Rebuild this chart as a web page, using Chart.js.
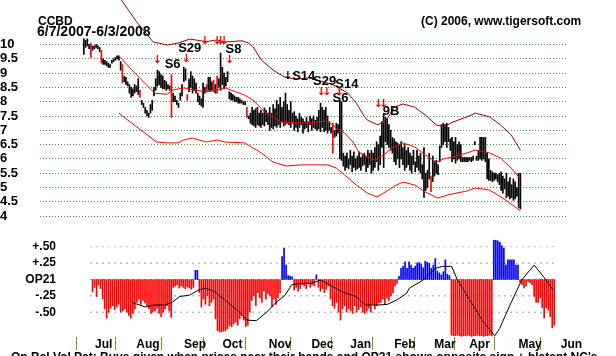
<!DOCTYPE html>
<html>
<head>
<meta charset="utf-8">
<script src="https://cdn.jsdelivr.net/npm/chart.js@4.4.1/dist/chart.umd.min.js"></script>
<style>
  html, body { margin: 0; padding: 0; background: #ffffff; }
  #wrap { position: relative; width: 616px; height: 356px; overflow: hidden; }
  canvas { position: absolute; left: 0; top: 0; }
</style>
</head>
<body>
<div id="wrap">
  <canvas id="op21" width="616" height="356"></canvas>
  <canvas id="price" width="616" height="356"></canvas>
</div>
<script>
// ---------------- DATA ----------------
const ticker = 'CCBD';
const dateRange = '6/7/2007-6/3/2008';
const copyright = '(C) 2006, www.tigersoft.com';
const footNote = "On Bal Vol Pct: Buys given when prices near their bands and OP21 shows opposite sign + blatant NC's";

// daily highs / lows (trading day index 0 = 6/7/2007)
const highs = [
  10.2,10.15,10.2,10.0,10.05,9.95,9.95,10.0,9.95,9.9,
  9.8,9.5,9.45,9.4,9.35,9.3,9.45,9.5,9.55,9.6,
  9.6,9.4,9.3,8.9,8.85,8.7,8.6,8.5,8.45,8.6,
  8.55,8.8,8.4,8.05,7.95,7.8,7.7,7.6,7.9,8.05,
  8.5,8.8,9.1,9.05,8.95,8.9,8.75,8.7,8.6,8.55,
  8.95,8.3,8.2,8.05,7.95,8.3,8.6,9.2,9.15,8.25,
  8.8,9.05,8.9,8.8,8.65,8.3,8.2,8.1,8.65,8.5,
  8.6,8.85,8.85,8.7,8.75,8.6,8.9,8.8,9.7,9.2,
  9.0,8.85,9.05,8.35,8.3,8.25,8.2,8.15,8.15,8.1,
  8.05,8.0,8.0,7.8,7.5,7.6,7.8,7.7,7.75,7.8,
  7.6,7.7,7.6,7.78,7.7,7.6,7.8,7.6,7.9,7.75,
  8.05,7.9,8.15,7.8,8.0,8.3,7.9,7.7,8.0,7.6,
  7.65,7.5,7.4,7.6,7.45,7.4,7.3,7.45,7.3,7.5,
  7.4,7.5,7.35,7.45,7.7,7.95,7.8,7.7,7.8,7.5,
  7.3,7.1,7.25,7.0,7.25,7.2,8.05,8.0,6.2,6.1,
  6.2,6.0,6.3,6.1,6.25,6.0,6.1,6.25,6.05,6.15,
  6.2,6.1,6.3,6.2,6.3,6.2,6.4,6.6,6.5,6.8,
  7.3,7.6,7.45,7.4,7.2,7.0,6.75,6.7,6.6,6.55,
  6.5,6.6,6.4,6.5,6.3,6.4,6.2,6.1,6.3,5.9,
  6.3,6.1,6.2,5.8,6.4,5.5,5.6,6.2,5.4,6.1,
  5.9,5.95,5.8,6.45,7.2,7.25,7.2,7.25,7.1,6.7,
  6.75,6.6,6.75,6.5,6.6,6.5,6.05,6.05,6.05,6.05,
  6.05,6.05,6.1,6.6,6.1,6.3,6.75,6.75,6.75,6.75,
  6.2,6.0,5.6,5.55,5.5,5.5,5.45,5.5,5.55,5.4,
  5.3,5.5,5.2,5.35,5.1,5.3,5.2,5.0,5.5,5.5
];
const lows = [
  9.65,9.9,9.95,9.85,9.55,9.8,9.85,9.9,9.85,9.75,
  9.35,9.3,9.3,9.25,9.2,9.2,9.35,9.4,9.45,9.5,
  9.45,9.1,8.65,8.7,8.6,8.55,8.3,8.15,8.2,8.3,
  8.35,8.25,8.15,7.9,7.8,7.6,7.5,7.45,7.6,7.7,
  8.2,8.4,8.55,8.6,8.5,8.45,8.45,8.4,8.45,8.4,
  7.45,8.0,8.0,7.9,7.8,8.05,8.2,8.7,8.75,8.05,
  8.35,8.5,8.3,8.4,8.3,8.0,7.9,7.85,7.8,8.3,
  8.35,8.4,8.35,8.4,8.35,8.3,8.3,8.5,8.4,8.6,
  8.45,8.55,8.7,8.1,8.05,8.05,8.0,8.0,7.95,7.95,
  7.95,7.9,7.9,7.45,7.4,7.25,7.2,7.15,7.1,7.2,
  7.15,7.1,7.2,7.15,7.3,7.2,7.0,7.1,7.05,7.15,
  7.1,7.2,7.1,7.3,7.15,7.2,7.25,7.2,7.1,7.25,
  7.0,7.1,6.95,7.1,7.2,6.9,7.05,7.1,6.95,7.2,
  7.0,7.1,7.05,7.0,7.05,6.95,7.1,6.95,7.0,6.9,
  7.0,6.9,6.2,6.75,6.8,6.9,6.0,5.95,5.75,5.6,
  5.7,5.65,5.8,5.55,5.7,5.6,5.65,5.7,5.6,5.75,
  5.8,5.55,5.7,5.8,5.5,5.6,5.7,5.9,5.6,5.8,
  6.4,5.7,6.6,6.5,6.4,6.3,6.2,5.9,5.8,6.0,
  5.7,6.0,5.8,5.6,5.7,5.8,5.6,5.5,5.8,5.55,
  5.7,5.6,5.5,5.3,4.65,4.9,5.0,5.3,4.85,5.2,
  5.4,5.5,5.45,5.9,6.4,6.5,6.6,6.4,6.6,6.3,
  5.9,6.0,5.85,5.95,6.0,5.9,5.9,5.9,5.9,5.9,
  5.95,5.9,5.95,6.5,5.95,5.95,6.0,5.95,6.0,5.9,
  5.3,5.25,5.25,5.2,5.25,5.3,5.2,5.1,4.9,4.8,
  4.95,4.65,4.7,4.6,4.65,4.55,4.6,4.7,4.3,4.25
];
const redBarDays = [4, 10, 22, 32, 50, 59, 70, 74, 76, 93, 142, 198];

// 21-day moving average and bands  [day, price]
const maLine = [[20,9.6],[28.5,9.04],[34.7,8.65],[40.4,8.3],[47.6,8.26],[50.9,8.41],[57,8.48],[63.2,8.41],[69.9,8.34],[76,8.41],[80.8,8.48],[85.5,8.37],[91.7,8.23],[96.5,8.06],[103.1,7.64],[112.6,7.29],[120.2,7.26],[129.7,7.26],[137.8,7.33],[141.1,7.22],[144,7.08],[148.7,6.91],[153.5,6.59],[156.8,6.24],[161.6,6.07],[166.3,5.96],[171,6.14],[175.8,6.38],[182,6.56],[188.6,6.42],[194.8,6.14],[201,5.89],[205.3,6.0],[210.5,6.07],[218.6,6.21],[223.3,6.31],[231.4,6.21],[237.6,6.03],[243.7,5.68],[249,5.3]];
const upperBand = [[20,11.9],[21.4,11.56],[30,10.8],[39.5,10.09],[47.6,9.98],[53.7,10.05],[60.4,10.19],[69.9,10.1],[76,10.16],[80.8,10.09],[90.3,10.13],[93.6,10.06],[96.5,9.92],[101.2,9.46],[107.9,9.11],[114.1,8.87],[120.2,8.79],[128.3,8.83],[133.1,8.76],[142.6,8.58],[150.6,8.3],[155.4,7.95],[160.1,7.47],[161.6,7.36],[167.7,7.19],[172.5,7.36],[177.2,7.81],[182,7.92],[188.6,7.81],[194.8,7.53],[201,7.19],[205.3,7.12],[210.5,7.29],[218.6,7.47],[223.3,7.6],[231.4,7.47],[237.6,7.19],[243.7,6.84],[249,6.3]];
const lowerBand = [[20,7.6],[27.1,7.26],[34.7,6.91],[41.4,6.59],[47.6,6.56],[53.7,6.56],[57,6.66],[61.8,6.73],[69.9,6.59],[76,6.66],[80.8,6.59],[91.7,6.56],[101.2,6.21],[107.9,5.89],[115.5,5.75],[123.6,5.79],[131.7,5.79],[139.2,5.79],[144,5.68],[148.7,5.44],[155.4,5.09],[161.6,4.81],[167.3,4.67],[171.1,4.81],[177.2,5.05],[182,5.19],[188.6,5.09],[194.8,4.84],[201.9,4.63],[207.6,4.74],[218.6,4.88],[223.3,4.98],[231.4,4.91],[236.1,4.74],[242.3,4.49],[249,4.18]];

// signals
const signalLabels = ['S6','S29','S8','S14','S29','S14','S6','9B'];
const signalDays   = [46.1, 53.8, 80.8, 118.8, 130.7, 143.4, 141.8, 170.5];
const signalPrices = [9.18, 9.74, 9.7, 8.76, 8.58, 8.47, 8.0, 7.55];
const redArrowDays   = [42, 58.5, 69, 76, 78, 80, 83.2, 135.4, 138.6, 145.7, 168, 171];
const redArrowPrices = [9.46, 9.5, 10.1, 10.1, 10.1, 10.1, 9.45, 8.35, 8.35, 8.35, 7.9, 7.9];
const blackArrowDays = [116.4];
const blackArrowPrices = [8.9];

// OP21 histogram (starts at day 20) and its smoothed line
const op21Start = 20;
const op21Hist = [
  -0.19,-0.12,-0.26,-0.08,-0.14,-0.3,-0.45,-0.59,-0.5,-0.44,
  -0.4,-0.46,-0.42,-0.38,-0.5,-0.48,-0.45,-0.5,-0.55,-0.59,
  -0.52,-0.45,-0.35,-0.3,-0.38,-0.32,-0.36,-0.4,-0.45,-0.52,
  -0.5,-0.48,-0.44,-0.52,-0.57,-0.5,-0.45,-0.4,-0.48,-0.58,
  -0.12,-0.1,-0.08,-0.13,-0.1,-0.12,-0.14,-0.11,-0.13,-0.15,
  -0.12,0.14,0.14,-0.2,-0.42,-0.3,-0.38,-0.25,-0.4,-0.35,
  -0.3,-0.6,-0.78,-0.8,-0.8,-0.79,-0.78,-0.75,-0.7,-0.72,
  -0.68,-0.65,-0.7,-0.6,-0.55,-0.62,-0.72,-0.7,-0.5,-0.32,
  -0.25,-0.4,-0.2,-0.28,-0.35,-0.18,-0.3,-0.22,-0.25,-0.42,
  -0.3,-0.38,-0.28,-0.2,0.35,0.48,0.22,0.06,0.05,0.04,
  -0.16,-0.12,-0.18,-0.14,-0.08,-0.1,-0.14,-0.05,-0.12,-0.08,
  -0.1,0.07,-0.12,-0.18,-0.14,-0.2,-0.15,-0.1,-0.3,-0.4,
  -0.44,-0.35,-0.5,-0.62,-0.45,-0.4,-0.5,-0.45,-0.48,-0.52,
  -0.4,-0.5,-0.46,-0.42,-0.5,-0.52,-0.48,-0.44,-0.5,-0.38,
  -0.45,-0.4,-0.36,-0.35,-0.3,-0.38,-0.28,-0.32,-0.25,-0.2,
  -0.1,-0.06,0.05,0.17,0.2,0.27,0.17,0.27,0.22,0.17,
  0.2,0.25,0.26,0.23,0.18,0.28,0.26,0.25,0.17,0.22,
  0.32,0.13,0.1,0.07,0.12,0.3,0.08,0.06,-0.85,-0.86,
  -0.86,-0.85,-0.86,-0.87,-0.86,-0.86,-0.85,-0.86,-0.87,-0.86,
  -0.86,-0.85,-0.86,-0.86,-0.87,-0.86,-0.86,-0.85,-0.86,0.6,
  0.6,0.59,0.57,0.52,0.48,0.22,0.3,0.3,0.3,0.3,
  0.22,0.22,-0.04,-0.08,-0.13,-0.1,-0.03,-0.05,-0.08,-0.26,
  -0.35,-0.35,-0.28,-0.43,-0.59,-0.43,-0.47,-0.57,-0.74,-0.7
];
const op21Line = [[39.5,-0.35],[46.1,-0.42],[50.9,-0.39],[55.6,-0.39],[59.4,-0.35],[63.2,-0.26],[68,-0.24],[72.7,-0.16],[76,-0.13],[80.8,-0.19],[85.5,-0.31],[91.7,-0.47],[96.5,-0.62],[101.2,-0.63],[106,-0.51],[110.7,-0.36],[115.5,-0.24],[118.8,-0.08],[123.6,-0.06],[128.3,-0.06],[133.1,-0.01],[139.2,-0.11],[144,-0.19],[150.6,-0.26],[155.4,-0.39],[161.6,-0.39],[166.3,-0.38],[171.1,-0.31],[175.8,-0.21],[177.2,-0.13],[183.9,-0.01],[190,0.17],[193.4,0.2],[198.1,0.2],[201,-0.01],[207.6,-0.34],[213.8,-0.65],[219.5,-0.86],[221.9,-0.75],[226.6,-0.42],[232.8,-0.01],[239,0.22],[243.7,0.04],[248.4,-0.16]];

// tick labels
const priceTicks = [4,4.5,5,5.5,6,6.5,7,7.5,8,8.5,9,9.5,10];
const priceTickLabels = ['4','4.5','5','5.5','6','6.5','7','7.5','8','8.5','9','9.5','10'];
const op21Ticks = [-0.5,-0.25,0,0.25,0.5];
const op21TickLabels = ['-.50','-.25','OP21','+.25','+.50'];
const monthNames = ['Jul','Aug','Sep','Oct','Nov','Dec','Jan','Feb','Mar','Apr','May','Jun'];
const monthStartDays = [16.5,37.5,60.5,79.5,102.5,123.5,143.5,164.5,184.5,204.5,226.5,247.5];
const monthLabelDays = [25.5,47.5,70.8,89.4,113,134,153,174.9,194.8,211.9,237,257.5];

// ---------------- LAYOUT ----------------
const DAYS = 250;
const TOP = { left: 40, right: 566, top: 30, bottom: 222, refPrice: 10, refY: 44.5, pxPerUnit: 28.6 };
const BOT = { left: 60, right: 606, top: 236, bottom: 337, zeroY: 279.5, pxPerUnit: 65.4, guideFrom: 19 };
const pxPerDay = (TOP.right - TOP.left) / DAYS;
const OLIVE = '#8c8c1a';

Chart.defaults.font.family = 'Arial, "Liberation Sans", sans-serif';
Chart.defaults.color = '#000';

const textPlugin = {
  id: 'priceTexts',
  afterDraw(chart) {
    const { ctx } = chart;
    const xs = chart.scales.x, ys = chart.scales.y;
    ctx.save();
    ctx.fillStyle = '#000';
    ctx.textBaseline = 'alphabetic';
    ctx.textAlign = 'left';
    ctx.font = 'bold 12px Arial';
    ctx.fillText(ticker, 38, 25);
    ctx.font = 'bold 14px Arial';
    ctx.fillText(dateRange, 37, 36);
    ctx.font = 'bold 12px Arial';
    ctx.fillText(copyright, 421, 25);
    ctx.font = 'bold 13px Arial';
    signalLabels.forEach((s, k) => {
      ctx.fillText(s, xs.getPixelForValue(signalDays[k]), ys.getPixelForValue(signalPrices[k]));
    });
    ctx.textAlign = 'center';
    ctx.textBaseline = 'middle';
    ctx.font = 'bold 11px "DejaVu Sans"';
    ctx.fillStyle = '#ff0000';
    redArrowDays.forEach((d, k) => ctx.fillText('\u2193', xs.getPixelForValue(d), ys.getPixelForValue(redArrowPrices[k])));
    ctx.fillStyle = '#000';
    blackArrowDays.forEach((d, k) => ctx.fillText('\u2193', xs.getPixelForValue(d), ys.getPixelForValue(blackArrowPrices[k])));
    ctx.restore();
  }
};

const footPlugin = {
  id: 'foot',
  afterDraw(chart) {
    const { ctx } = chart;
    ctx.save();
    ctx.fillStyle = '#000';
    ctx.font = 'bold 12px Arial';
    ctx.textAlign = 'left';
    ctx.textBaseline = 'alphabetic';
    ctx.fillText(footNote, 11, 361);
    ctx.restore();
  }
};

const toXY = arr => arr.map(([d, v]) => ({ x: d, y: v }));
const lineDs = (data, color, extra) => Object.assign({
  type: 'line', data: toXY(data), borderColor: color, borderWidth: 1,
  pointRadius: 0, tension: 0, fill: false
}, extra || {});

// ---------------- PRICE CHART ----------------
new Chart(document.getElementById('price'), {
  type: 'bar',
  data: {
    datasets: [
      lineDs(maLine, '#ff0000'),
      lineDs(upperBand, '#990000', { clip: false }),
      lineDs(lowerBand, '#ff0000'),
      {
        type: 'bar',
        data: highs.map((h, i) => ({ x: i, y: [lows[i], h] })),
        backgroundColor: ctx => redBarDays.includes(ctx.dataIndex) ? '#ff0000' : '#000000',
        barThickness: 1,
        borderWidth: 0,
        grouped: false
      }
    ]
  },
  options: {
    responsive: false, animation: false, devicePixelRatio: 1,
    events: [],
    layout: { padding: { left: 0, top: TOP.top, right: 616 - TOP.right, bottom: 356 - TOP.bottom } },
    plugins: { legend: { display: false }, tooltip: { enabled: false }, title: { display: false } },
    scales: {
      x: { type: 'linear', min: 0, max: DAYS, display: false },
      y: {
        type: 'linear',
        min: TOP.refPrice - (TOP.bottom - TOP.refY) / TOP.pxPerUnit,
        max: TOP.refPrice + (TOP.refY - TOP.top) / TOP.pxPerUnit,
        afterFit: s => { s.width = TOP.left; },
        afterBuildTicks: s => { s.ticks = priceTicks.map(v => ({ value: v })); },
        border: { display: false, dash: [1, 2] },
        grid: { color: '#3c9a3c', drawTicks: false, lineWidth: 1 },
        ticks: {
          autoSkip: false, maxTicksLimit: 100,
          crossAlign: 'far', padding: 16,
          font: { size: 13, weight: 'bold' }, color: '#000',
          callback: v => priceTickLabels[priceTicks.indexOf(v)]
        }
      }
    }
  },
  plugins: [textPlugin]
});

// ---------------- OP21 CHART ----------------
const botMin = (BOT.left - TOP.left) / pxPerDay;
const botMax = DAYS + (BOT.right - TOP.right) / pxPerDay;
const guideDatasets = op21Ticks.map(lv => lineDs([[BOT.guideFrom, lv], [DAYS, lv]],
  lv === 0.5 ? '#b070b0' : '#333333', { borderDash: [1, 5] }));
const xTicks = monthStartDays.concat(monthLabelDays).sort((a, b) => a - b);
const isStart = ctx => !!(ctx.tick && monthStartDays.includes(ctx.tick.value));

new Chart(document.getElementById('op21'), {
  type: 'bar',
  data: {
    datasets: [
      lineDs(op21Line, '#000000'),
      {
        type: 'bar',
        data: op21Hist.map((v, k) => ({ x: op21Start + k, y: v })),
        backgroundColor: ctx => (ctx.raw && ctx.raw.y >= 0) ? '#0000ff' : '#ff0000',
        barThickness: 1, borderWidth: 0, grouped: false
      }
    ].concat(guideDatasets)
  },
  options: {
    responsive: false, animation: false, devicePixelRatio: 1,
    events: [],
    layout: { padding: { left: 0, top: BOT.top, right: 616 - BOT.right, bottom: 0 } },
    plugins: { legend: { display: false }, tooltip: { enabled: false } },
    scales: {
      x: {
        type: 'linear', min: botMin, max: botMax,
        afterFit: s => { s.height = 356 - BOT.bottom; },
        afterBuildTicks: s => { s.ticks = xTicks.map(v => ({ value: v })); },
        border: { display: false },
        grid: {
          drawOnChartArea: false, drawTicks: true, tickLength: 13, lineWidth: 1,
          color: ctx => isStart(ctx) ? OLIVE : 'rgba(0,0,0,0)',
          tickColor: ctx => isStart(ctx) ? OLIVE : 'rgba(0,0,0,0)',
          tickWidth: 1
        },
        ticks: {
          autoSkip: false, maxTicksLimit: 100, maxRotation: 0, padding: -13,
          font: { size: 12, weight: 'bold' }, color: '#000',
          callback: v => { const k = monthLabelDays.indexOf(v); return k >= 0 ? monthNames[k] : ''; }
        }
      },
      y: {
        type: 'linear',
        min: -(BOT.bottom - BOT.zeroY) / BOT.pxPerUnit,
        max: (BOT.zeroY - BOT.top) / BOT.pxPerUnit,
        afterFit: s => { s.width = BOT.left; },
        afterBuildTicks: s => { s.ticks = op21Ticks.map(v => ({ value: v })); },
        border: { display: false },
        grid: { display: false, drawTicks: false },
        ticks: {
          autoSkip: false, maxTicksLimit: 100,
          crossAlign: 'near', padding: 4,
          font: { size: 12, weight: 'bold' }, color: '#000',
          callback: v => op21TickLabels[op21Ticks.indexOf(v)]
        }
      }
    }
  },
  plugins: [footPlugin]
});
</script>
</body>
</html>
